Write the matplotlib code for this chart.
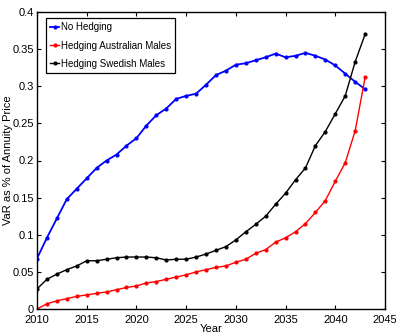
import matplotlib
matplotlib.use("Agg")
import matplotlib.pyplot as plt

years = list(range(2010, 2044))

no_hedging = [0.068, 0.096, 0.122, 0.148, 0.162, 0.176, 0.190, 0.200, 0.208, 0.220,
              0.230, 0.247, 0.261, 0.270, 0.283, 0.287, 0.290, 0.302, 0.315, 0.321,
              0.329, 0.331, 0.335, 0.339, 0.344, 0.339, 0.341, 0.345, 0.341, 0.336,
              0.328, 0.317, 0.306, 0.296]

hedging_aus = [0.000, 0.007, 0.011, 0.014, 0.017, 0.019, 0.021, 0.023, 0.026, 0.029,
               0.031, 0.035, 0.037, 0.040, 0.043, 0.046, 0.050, 0.053, 0.056, 0.058,
               0.063, 0.067, 0.075, 0.080, 0.090, 0.096, 0.104, 0.115, 0.130, 0.146,
               0.172, 0.197, 0.240, 0.312]

hedging_swe = [0.027, 0.040, 0.047, 0.053, 0.058, 0.065, 0.065, 0.067, 0.069, 0.070,
               0.070, 0.070, 0.069, 0.066, 0.067, 0.067, 0.070, 0.074, 0.079, 0.084,
               0.093, 0.104, 0.114, 0.125, 0.141, 0.156, 0.174, 0.190, 0.220, 0.239,
               0.263, 0.287, 0.333, 0.370]

y_ticks = [0, 0.05, 0.1, 0.15, 0.2, 0.25, 0.3, 0.35, 0.4]
y_tick_labels = ["0", "0.05", "0.1", "0.15", "0.2", "0.25", "0.3", "0.35", "0.4"]

plt.rcParams["font.family"] = ["Liberation Sans", "DejaVu Sans"]

fig = plt.figure(figsize=(3.96, 3.36), dpi=100)
ax = fig.add_axes([37 / 396, 1 - 309 / 336, 348 / 396, 297 / 336])

ax.plot(years, no_hedging, color="blue", marker="o", markersize=2, linewidth=1.3, label="No Hedging")
ax.plot(years, hedging_aus, color="red", marker="o", markersize=2, linewidth=1.0, label="Hedging Australian Males")
ax.plot(years, hedging_swe, color="black", marker="o", markersize=2, linewidth=1.0, label="Hedging Swedish Males")

ax.set_xlim(2010, 2045)
ax.set_ylim(0, 0.4)
ax.set_xticks(range(2010, 2046, 5))
ax.set_yticks(y_ticks)
ax.set_yticklabels(y_tick_labels)
ax.tick_params(direction="in", top=True, right=True, labelsize=8, length=3)
ax.tick_params(axis="x", pad=4.5)
ax.tick_params(axis="y", pad=2)
for s in ax.spines.values():
    s.set_linewidth(1.0)

ax.set_xlabel("Year", fontsize=8, labelpad=-1)
ax.set_ylabel("VaR as % of Annuity Price", fontsize=8)
ax.yaxis.set_label_coords(-24 / 348, 0.5)

leg = ax.legend(loc="upper left", bbox_to_anchor=(9 / 348, 1 - 6 / 297), borderaxespad=0,
                fontsize=7, handlelength=0.9, handletextpad=0.15,
                borderpad=0.45, labelspacing=0.85, fancybox=False, framealpha=1,
                edgecolor="black", markerscale=1)
leg.get_frame().set_linewidth(0.9)

fig.savefig("out.png", dpi=100)
